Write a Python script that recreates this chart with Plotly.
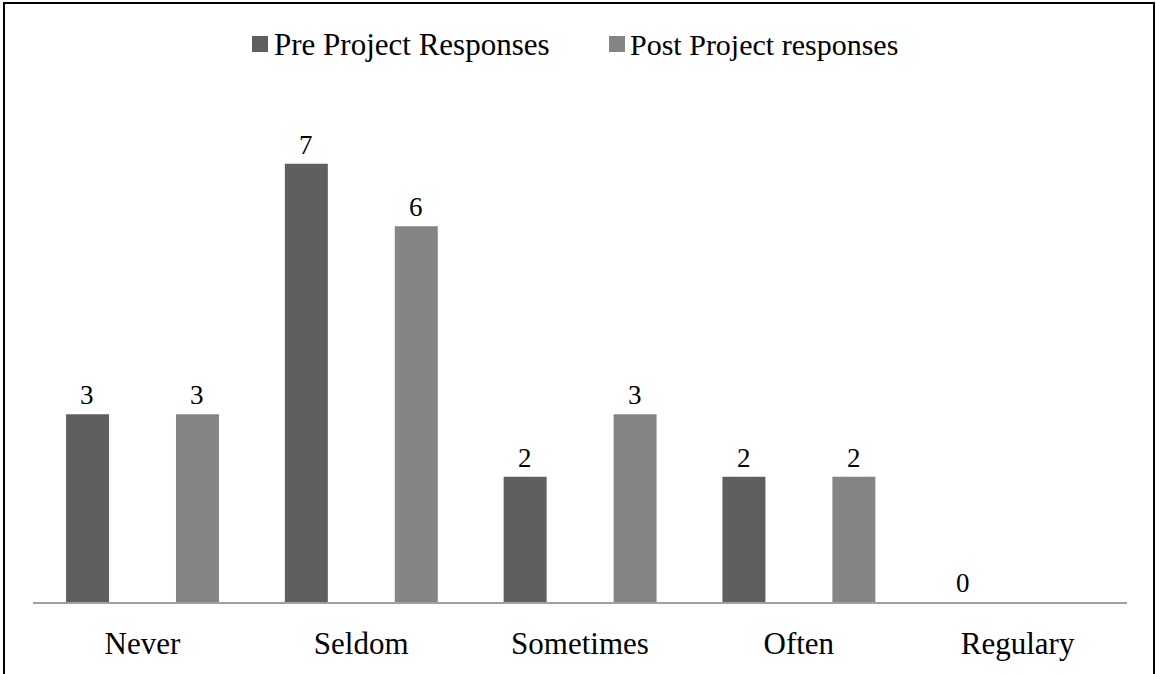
import plotly.graph_objects as go

categories = ["Never", "Seldom", "Sometimes", "Often", "Regulary"]
pre_values = [3, 7, 2, 2, 0]
post_values = [3, 6, 3, 2, None]
series_names = ["Pre Project Responses", "Post Project responses"]
colors = ["#5f5f5f", "#848484"]

W, H = 1156, 674
L, R, T, B = 33, 29, 101, 72
PW, PH = W - L - R, H - T - B


def px_x(p):
    return (p - L) / PW


def px_y(p):
    return (H - B - p) / PH


FONT = "Liberation Serif, Times New Roman, serif"

fig = go.Figure()
offsets = [-0.349, 0.1535]
bw = 0.1965
for vals, name, col, off in zip([pre_values, post_values], series_names, colors, offsets):
    fig.add_trace(go.Bar(
        x=categories, y=vals, name=name, marker=dict(color=col, line=dict(width=0)),
        offset=off, width=bw, showlegend=False, hoverinfo="x+y",
    ))

# value labels
shifts = [-55, 55]
for vals, sh in zip([pre_values, post_values], shifts):
    for c, v in zip(categories, vals):
        if v is None:
            continue
        fig.add_annotation(x=c, y=v, xref="x", yref="y", text=str(v), showarrow=False,
                           xshift=sh, yshift=2, yanchor="bottom",
                           font=dict(family=FONT, size=27, color="black"))

# manual legend
leg = [(252, 268, 272, 31), (609, 625, 628, 30)]
for (x0, x1, tx, fs), name, col in zip(leg, series_names, colors):
    fig.add_shape(type="rect", xref="paper", yref="paper",
                  x0=px_x(x0), x1=px_x(x1), y0=px_y(52), y1=px_y(36),
                  fillcolor=col, line=dict(width=0))
    fig.add_annotation(x=px_x(tx), y=px_y(45), xref="paper", yref="paper", text=name,
                       showarrow=False, xanchor="left", yanchor="middle",
                       font=dict(family=FONT, size=fs, color="black"))

# outer border
fig.add_shape(type="rect", xref="paper", yref="paper",
              x0=px_x(4), x1=px_x(1154), y0=px_y(690), y1=px_y(3),
              line=dict(color="black", width=2), fillcolor="rgba(0,0,0,0)", layer="above")

fig.update_layout(
    width=W, height=H,
    margin=dict(l=L, r=R, t=T, b=B),
    paper_bgcolor="white", plot_bgcolor="white",
    barmode="overlay",
    font=dict(family=FONT, color="black"),
)
fig.update_xaxes(showline=True, linecolor="#a0a0a0", linewidth=2, ticks="",
                 ticklabelstandoff=13,
                 tickfont=dict(family=FONT, size=31, color="black"), showgrid=False,
                 zeroline=False)
fig.update_yaxes(range=[0, 8], visible=False, showgrid=False, zeroline=False)

fig.write_html("out.html", config={"displayModeBar": False},
               post_script="document.body.style.margin='0';document.body.style.overflow='hidden';")
